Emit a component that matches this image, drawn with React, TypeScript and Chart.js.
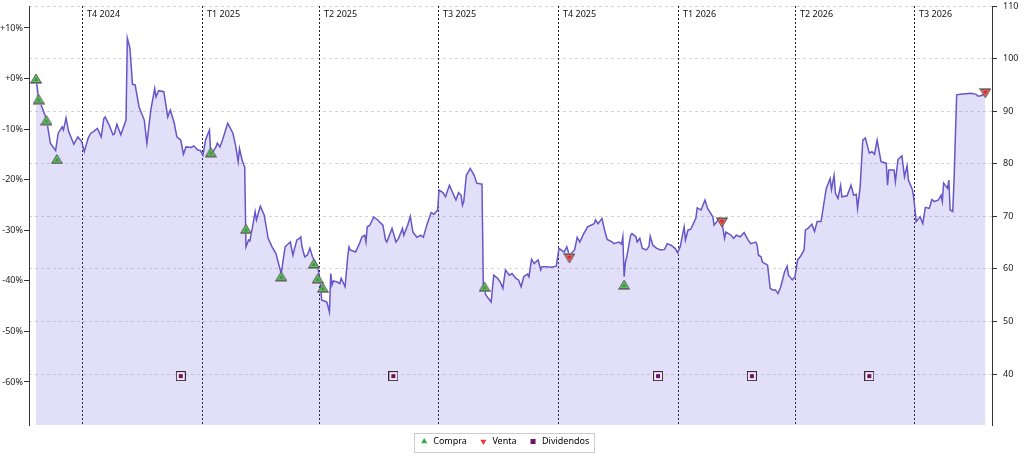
import { useEffect, useRef } from 'react';
import { Chart, registerables } from 'chart.js';

Chart.register(...registerables);

// ---- data (days counted from 2024-10-01) ----
const ORIGIN = '2024-10-01';
const BASE_PRICE = 96.2;
const PRICE_MIN = 30.3;
const PRICE_MAX = 110;
const X_MIN = -40.4;
const X_MAX = 698.1;

const QUARTER_LABELS = ['T4 2024', 'T1 2025', 'T2 2025', 'T3 2025', 'T4 2025', 'T1 2026', 'T2 2026', 'T3 2026'];
const QUARTER_STARTS = ['2024-10-01', '2025-01-01', '2025-04-01', '2025-07-01', '2025-10-01', '2026-01-01', '2026-04-01', '2026-07-01'];

const PRICE_DAYS = [
  -35, -33, -27, -24, -20, -18, -15, -14, -12, -10, -6, -3, 0, 2, 5, 7, 9, 12, 15, 17, 18, 21, 24, 25, 27, 30, 34, 35, 37, 39,
  41, 44, 48, 50, 53, 56, 57, 59, 63, 66, 67, 68, 71, 73, 76, 78, 80, 84, 86, 89, 91, 93, 95, 98, 99, 103, 104, 106, 108, 112,
  116, 118, 120, 121, 123, 125, 126, 128, 129, 131, 133, 134, 137, 140, 143, 146, 149, 153, 156, 160, 162, 163, 165, 167, 168, 169, 171, 173, 175, 177,
  181, 183, 184, 186, 188, 190, 191, 192, 193, 196, 198, 199, 202, 204, 205, 206, 210, 213, 215, 217, 218, 219, 221, 224, 227, 231, 233, 234, 238, 241,
  243, 246, 247, 250, 252, 254, 257, 260, 262, 265, 268, 270, 273, 274, 277, 279, 282, 287, 289, 291, 292, 293, 295, 298, 301, 303, 307, 308, 310, 314,
  316, 319, 321, 323, 325, 328, 330, 333, 335, 337, 339, 342, 343, 345, 347, 350, 352, 353, 357, 360, 364, 366, 370, 372, 374, 378, 380, 382, 385, 388,
  393, 394, 396, 399, 401, 403, 407, 408, 412, 414, 415, 416, 417, 418, 421, 422, 425, 426, 428, 430, 433, 435, 436, 438, 441, 444, 447, 449, 452, 455,
  457, 459, 462, 463, 465, 467, 471, 472, 475, 478, 480, 484, 485, 489, 491, 493, 494, 498, 500, 502, 505, 508, 511, 513, 517, 518, 519, 521, 522, 526,
  528, 530, 532, 534, 536, 539, 541, 542, 545, 547, 549, 551, 554, 555, 557, 560, 562, 564, 567, 571, 574, 575, 577, 578, 580, 582, 583, 587, 590, 592,
  594, 595, 597, 599, 601, 604, 606, 608, 610, 613, 617, 618, 619, 623, 624, 626, 629, 631, 633, 634, 637, 638, 640, 642, 643, 645, 647, 650, 652, 654,
  657, 659, 660, 661, 664, 665, 666, 668, 669, 671, 674, 682, 686, 687, 689, 692, 693,
];
const PRICES = [
  96.2, 92.4, 88.5, 83.9, 82.5, 85.8, 87.0, 86.4, 88.7, 86.1, 83.7, 85.1, 84.2, 82.3, 84.9, 85.8, 86.1, 86.7, 85.1, 88.6, 88.9, 87.4, 85.5, 85.6, 87.5, 85.5, 88.3, 103.9, 102.0, 95.1,
  95.0, 90.8, 88.3, 83.9, 90.2, 94.3, 92.7, 93.9, 93.7, 88.9, 89.6, 90.2, 87.7, 85.1, 84.5, 81.8, 83.2, 83.1, 83.4, 82.6, 82.5, 81.6, 84.5, 86.4, 81.6, 83.2, 83.9, 83.2, 84.5, 87.7,
  85.8, 83.5, 80.4, 82.9, 80.7, 79.4, 64.2, 65.5, 65.3, 68.0, 70.9, 69.3, 71.9, 70.2, 65.8, 64.2, 62.9, 59.1, 64.2, 65.1, 62.6, 63.6, 65.5, 65.8, 66.1, 64.2, 62.3, 62.6, 63.9, 62.3,
  60.4, 57.5, 54.1, 53.9, 53.7, 51.8, 59.1, 56.9, 57.7, 57.5, 57.2, 58.2, 56.6, 62.3, 64.2, 63.6, 63.2, 64.8, 66.1, 66.4, 65.1, 68.0, 68.3, 69.9, 69.3, 68.3, 65.5, 65.1, 67.7, 65.1,
  65.8, 67.7, 66.4, 68.3, 70.0, 67.0, 66.0, 66.4, 66.0, 68.6, 70.7, 70.4, 71.2, 75.0, 74.5, 73.7, 75.9, 73.1, 74.5, 74.0, 72.1, 72.8, 77.8, 79.1, 77.8, 76.3, 76.1, 56.6, 55.0, 53.7,
  58.8, 58.2, 57.5, 56.3, 59.8, 58.8, 59.1, 58.2, 57.9, 56.6, 58.5, 59.0, 58.5, 61.8, 61.0, 61.7, 59.8, 60.4, 60.4, 60.3, 60.5, 63.9, 63.2, 64.2, 62.6, 63.6, 66.0, 65.1, 66.7, 68.0,
  68.6, 69.3, 68.6, 69.6, 67.4, 65.6, 65.1, 64.8, 65.1, 64.7, 66.1, 58.5, 61.3, 62.3, 66.4, 66.7, 66.1, 65.1, 65.8, 63.9, 63.6, 64.2, 66.2, 64.5, 63.9, 63.6, 63.7, 64.8, 64.5, 63.9,
  63.1, 64.2, 68.0, 65.5, 67.4, 67.5, 69.6, 71.6, 71.2, 73.1, 71.5, 69.9, 68.3, 69.6, 68.9, 65.8, 67.0, 66.4, 65.8, 66.4, 66.1, 66.9, 65.5, 64.8, 65.1, 64.5, 62.6, 62.3, 61.3, 60.7,
  56.3, 56.0, 56.0, 55.3, 56.5, 59.4, 60.5, 58.8, 57.9, 58.5, 61.7, 62.3, 63.6, 67.4, 67.7, 68.5, 67.1, 69.0, 69.0, 75.3, 77.2, 75.1, 77.8, 74.4, 73.4, 75.9, 73.7, 73.9, 75.9, 74.0,
  74.2, 71.5, 75.6, 84.5, 84.9, 82.0, 82.3, 81.8, 84.5, 80.4, 80.1, 75.9, 78.8, 78.8, 76.6, 80.8, 81.5, 77.5, 79.6, 76.9, 75.1, 73.7, 69.0, 69.6, 69.9, 68.6, 71.7, 71.5, 73.2, 72.8,
  73.1, 74.0, 72.8, 76.3, 75.3, 76.9, 71.2, 70.9, 76.9, 93.1, 93.2, 93.4, 93.2, 92.9, 92.9, 93.2, 93.1,
];

const BUY_DAYS = [-35, -33, -27, -19, 99, 126, 153, 178, 181, 185, 309, 416];
const BUY_PRICES = [96.2, 92.3, 88.3, 80.9, 82.2, 67.6, 58.6, 61.0, 58.2, 56.4, 56.6, 57.0];
const SELL_DAYS = [374, 491, 693];
const SELL_PRICES = [62.0, 68.8, 93.4];
const DIV_DAYS = [76, 239, 442, 514, 604];
const DIV_ROW_PRICE = 39.6;

const SERIES_NAMES = ['Compra', 'Venta', 'Dividendos'];

const FONT_FAMILY = "'Noto Sans', 'DejaVu Sans', sans-serif";

function dayOf(iso: string): number {
  const [y, m, d] = iso.split('-').map(Number);
  const [oy, om, od] = ORIGIN.split('-').map(Number);
  return Math.round((Date.UTC(y, m - 1, d) - Date.UTC(oy, om - 1, od)) / 86400000);
}

function makeBuyMarker(): HTMLCanvasElement {
  const c = document.createElement('canvas');
  c.width = 12; c.height = 11;
  const g = c.getContext('2d')!;
  g.fillStyle = 'rgba(150,150,150,0.9)';
  g.fillRect(0, 9, 12, 2);
  g.beginPath();
  g.moveTo(6, 1); g.lineTo(11, 9.5); g.lineTo(1, 9.5); g.closePath();
  g.fillStyle = '#6cc86c';
  g.fill();
  g.lineWidth = 1; g.strokeStyle = '#555';
  g.stroke();
  g.beginPath();
  g.moveTo(6, 4); g.lineTo(8.3, 8); g.lineTo(3.7, 8); g.closePath();
  g.fillStyle = '#2f9a36';
  g.fill();
  return c;
}

function makeSellMarker(): HTMLCanvasElement {
  const c = document.createElement('canvas');
  c.width = 12; c.height = 11;
  const g = c.getContext('2d')!;
  g.fillStyle = 'rgba(150,150,150,0.9)';
  g.fillRect(0, 0, 12, 2);
  g.beginPath();
  g.moveTo(1, 1.5); g.lineTo(11, 1.5); g.lineTo(6, 10); g.closePath();
  g.fillStyle = '#f06464';
  g.fill();
  g.lineWidth = 1; g.strokeStyle = '#555';
  g.stroke();
  g.beginPath();
  g.moveTo(3.7, 3); g.lineTo(8.3, 3); g.lineTo(6, 7); g.closePath();
  g.fillStyle = '#d42a2a';
  g.fill();
  return c;
}

function makeDivMarker(): HTMLCanvasElement {
  const c = document.createElement('canvas');
  c.width = 10; c.height = 10;
  const g = c.getContext('2d')!;
  g.fillStyle = '#3c2a3c';
  g.fillRect(0, 0, 10, 10);
  g.fillStyle = '#f4e8f2';
  g.fillRect(1, 1, 8, 8);
  g.fillStyle = '#6e1466';
  g.fillRect(3, 3, 4, 4);
  return c;
}

const quarterPlugin = {
  id: 'quarters',
  beforeDatasetsDraw(chart: any) {
    const { ctx, chartArea, scales } = chart;
    const x = scales.x;
    ctx.save();
    ctx.lineWidth = 1;
    ctx.strokeStyle = '#222';
    ctx.setLineDash([2, 2]);
    QUARTER_STARTS.forEach((q) => {
      const px = Math.round(x.getPixelForValue(dayOf(q))) + 0.5;
      ctx.beginPath();
      ctx.moveTo(px, chartArea.top);
      ctx.lineTo(px, chartArea.bottom);
      ctx.stroke();
    });
    ctx.setLineDash([]);
    ctx.fillStyle = '#111';
    ctx.font = `9px ${FONT_FAMILY}`;
    ctx.textBaseline = 'alphabetic';
    ctx.textAlign = 'left';
    QUARTER_STARTS.forEach((q, i) => {
      const px = Math.round(x.getPixelForValue(dayOf(q)));
      ctx.fillText(QUARTER_LABELS[i], px + 5, chartArea.top + 10.5);
    });
    ctx.restore();
  },
};

// keep the legend centred under the plot, as in the reference
const legendShiftPlugin = {
  id: 'legendShift',
  afterLayout(chart: any) {
    const lg = chart.legend;
    if (lg) lg.right = lg.right - 15;
  },
};

const legendBoxPlugin = {
  id: 'legendBox',
  afterDraw(chart: any) {
    const lg = chart.legend;
    if (!lg || !lg.legendHitBoxes || !lg.legendHitBoxes.length) return;
    const hb = lg.legendHitBoxes;
    const first = hb[0];
    const last = hb[hb.length - 1];
    const l = Math.round(first.left - 6);
    const r = Math.round(last.left + last.width + 5);
    const t = Math.round(first.top - 4);
    const b = Math.round(first.top + first.height + 6);
    const ctx = chart.ctx;
    ctx.save();
    ctx.strokeStyle = '#cccccc';
    ctx.lineWidth = 1;
    ctx.strokeRect(l + 0.5, t + 0.5, r - l, b - t);
    ctx.restore();
  },
};

export default function App() {
  const ref = useRef<HTMLCanvasElement | null>(null);

  useEffect(() => {
    document.body.style.margin = '0';
    if (!ref.current) return;
    Chart.defaults.font.family = FONT_FAMILY;
    Chart.defaults.font.size = 9;

    const pctMin = (PRICE_MIN / BASE_PRICE - 1) * 100;
    const pctMax = (PRICE_MAX / BASE_PRICE - 1) * 100;
    const keepTens = (min: number) => (s: any) => {
      s.ticks = s.ticks.filter((t: any) => Math.abs(t.value - Math.round(t.value / 10) * 10) < 1e-6 && t.value >= min);
    };

    const legendColors = [
      { fill: '#3aa845', style: 'triangle', rotation: 0 },
      { fill: '#e8383d', style: 'triangle', rotation: 180 },
      { fill: '#6e1466', style: 'rect', rotation: 0 },
    ];

    const chart = new Chart(ref.current, {
      type: 'line',
      data: {
        datasets: [
          {
            label: SERIES_NAMES[0],
            data: BUY_DAYS.map((d, i) => ({ x: d, y: BUY_PRICES[i] })),
            showLine: false,
            pointStyle: makeBuyMarker() as any,
            pointRadius: 5,
            yAxisID: 'y',
            order: 0,
          },
          {
            label: SERIES_NAMES[1],
            data: SELL_DAYS.map((d, i) => ({ x: d, y: SELL_PRICES[i] })),
            showLine: false,
            pointStyle: makeSellMarker() as any,
            pointRadius: 5,
            yAxisID: 'y',
            order: 0,
          },
          {
            label: SERIES_NAMES[2],
            data: DIV_DAYS.map((d) => ({ x: d, y: DIV_ROW_PRICE })),
            showLine: false,
            pointStyle: makeDivMarker() as any,
            pointRadius: 5,
            yAxisID: 'y',
            order: 0,
          },
          {
            label: 'Precio',
            data: PRICE_DAYS.map((d, i) => ({ x: d, y: PRICES[i] })),
            borderColor: '#6656c8',
            borderWidth: 1.5,
            backgroundColor: 'rgba(110,95,220,0.2)',
            fill: 'start',
            pointRadius: 0,
            tension: 0,
            yAxisID: 'y',
            order: 10,
          },
        ],
      },
      options: {
        animation: false,
        responsive: false,
        layout: { padding: { top: 6, right: 0, left: 0, bottom: 0 } },
        scales: {
          x: { type: 'linear', min: X_MIN, max: X_MAX, display: false },
          y: {
            type: 'linear',
            position: 'right',
            min: PRICE_MIN,
            max: PRICE_MAX,
            afterBuildTicks: keepTens(40),
            afterFit: (s: any) => { s.width = 32; s.paddingTop = 0; s.paddingBottom = 0; },
            ticks: { stepSize: 10, color: '#222', padding: 6, font: { size: 9 } },
            grid: { color: 'rgba(0,0,0,0.17)', tickColor: '#333', tickLength: 5, drawTicks: true },
            border: { display: true, color: '#333', width: 1, dash: [3, 3] },
          },
          yPct: {
            type: 'linear',
            position: 'left',
            min: pctMin,
            max: pctMax,
            afterBuildTicks: keepTens(-1000),
            afterFit: (s: any) => { s.width = 29; s.paddingTop = 0; s.paddingBottom = 0; },
            ticks: {
              stepSize: 10,
              color: '#222',
              padding: 1,
              font: { size: 9 },
              callback: (v: any) => (v >= 0 ? `+${v}%` : `${v}%`),
            },
            grid: { drawOnChartArea: false, drawTicks: true, tickLength: 5, tickColor: '#333' },
            border: { display: true, color: '#333', width: 1 },
          },
        },
        plugins: {
          tooltip: { enabled: false },
          legend: {
            position: 'bottom',
            labels: {
              usePointStyle: true,
              boxWidth: 9,
              boxHeight: 5,
              padding: 12,
              color: '#222',
              font: { size: 9 },
              generateLabels: () =>
                SERIES_NAMES.map((name, i) => ({
                  text: name,
                  fillStyle: legendColors[i].fill,
                  strokeStyle: legendColors[i].fill,
                  lineWidth: 0,
                  pointStyle: legendColors[i].style as any,
                  rotation: legendColors[i].rotation,
                  hidden: false,
                  datasetIndex: i,
                })),
            },
          },
        },
      },
      plugins: [quarterPlugin, legendShiftPlugin, legendBoxPlugin],
    });

    return () => chart.destroy();
  }, []);

  return <canvas ref={ref} width={1024} height={456} style={{ display: 'block' }} />;
}
